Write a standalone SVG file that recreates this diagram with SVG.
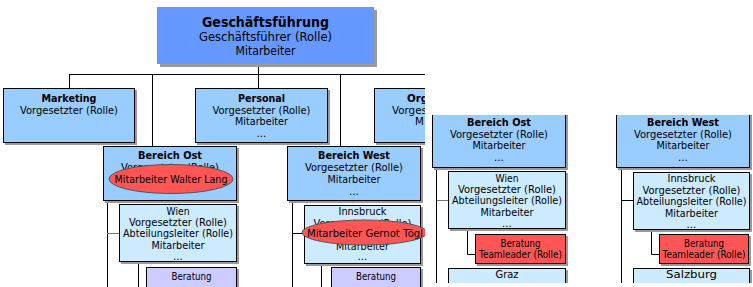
<svg xmlns="http://www.w3.org/2000/svg" width="753" height="287" viewBox="0 0 753 287">
<defs>
<clipPath id="clipL"><rect x="0" y="0" width="425" height="287"/></clipPath>
<clipPath id="clipR"><rect x="425" y="0" width="328" height="283"/></clipPath>
</defs>
<style>
text{font-family:"DejaVu Sans","Liberation Sans",sans-serif;font-size:10.3px;text-anchor:middle;fill:#000}
.b{font-weight:bold}
.s{text-anchor:start}
.sh{fill:#9a9a9a}
.bx{stroke:#000;stroke-width:1}
.c1{fill:#6699FF}
.c2{fill:#99CCFF}
.c3{fill:#CCEBFF}
.c4{fill:#CCCCFF}
.c5{fill:#FF5555}
.el{fill:#FF5555;stroke:#555;stroke-width:1}
.ln{stroke:#000;stroke-width:1;fill:none}
.lg{stroke:#777;stroke-width:1;fill:none}
</style>
<rect width="753" height="287" fill="#fff"/>

<g id="connectors">
<path class="ln" d="M258.5,64 V88 M69,74.5 H425 M69.5,74 V88 M152.5,74 V146 M340.5,74 V146 M107.5,200 V287 M138.5,261 V287 M292.5,200 V287 M292,233.5 H304 M321.5,263 V287"/>
<path class="lg" d="M107,233.5 H119 M436,200.5 H448"/>
<path class="ln" d="M436.5,167 V283 M467.5,228 V254.5 H475 M621.5,167 V283 M621,200.5 H633 M651.5,229 V254.5 H659"/>
</g>

<g id="n-geschaeftsfuehrung">
<rect class="sh" x="160" y="10" width="217" height="57"/>
<rect class="c1" x="157" y="7" width="217" height="57"/>
<text class="b" x="265.5" y="27" style="font-size:14.5px" textLength="127" lengthAdjust="spacingAndGlyphs">Geschäftsführung</text>
<text x="265.5" y="41" style="font-size:12px" textLength="133" lengthAdjust="spacingAndGlyphs">Geschäftsführer (Rolle)</text>
<text x="265.5" y="55" style="font-size:12px" textLength="60" lengthAdjust="spacingAndGlyphs">Mitarbeiter</text>
</g>

<g id="n-marketing">
<rect class="sh" x="5" y="90" width="132" height="55"/>
<rect class="c2 bx" x="3.5" y="88.5" width="131" height="54"/>
<text class="b" x="69" y="102" textLength="55" lengthAdjust="spacingAndGlyphs">Marketing</text>
<text x="69" y="113.5" textLength="98" lengthAdjust="spacingAndGlyphs">Vorgesetzter (Rolle)</text>
</g>

<g id="n-personal">
<rect class="sh" x="197" y="90" width="133" height="55"/>
<rect class="c2 bx" x="195.5" y="88.5" width="132" height="54"/>
<text class="b" x="261.5" y="102" textLength="47" lengthAdjust="spacingAndGlyphs">Personal</text>
<text x="261.5" y="113.5" textLength="98" lengthAdjust="spacingAndGlyphs">Vorgesetzter (Rolle)</text>
<text x="261.5" y="125" textLength="53" lengthAdjust="spacingAndGlyphs">Mitarbeiter</text>
<text x="261.5" y="136.5">...</text>
</g>

<g id="n-org" clip-path="url(#clipL)">
<rect class="sh" x="376" y="90" width="134" height="55"/>
<rect class="c2 bx" x="374.5" y="88.5" width="133" height="54"/>
<text class="b s" x="407" y="102">Org</text>
<text class="s" x="392" y="113.5">Vorges</text>
<text class="s" x="415" y="125">M</text>
</g>

<g id="n-bereich-ost">
<rect class="sh" x="105" y="148" width="134" height="55"/>
<rect class="c2 bx" x="103.5" y="146.5" width="133" height="54"/>
<text class="b" x="170" y="159" textLength="64" lengthAdjust="spacingAndGlyphs">Bereich Ost</text>
<text x="170" y="170.7" textLength="98" lengthAdjust="spacingAndGlyphs">Vorgesetzter (Rolle)</text>
<text x="170" y="182" textLength="53" lengthAdjust="spacingAndGlyphs">Mitarbeiter</text>
<text x="170" y="193">...</text>
</g>

<g id="n-walter-lang">
<ellipse class="el" cx="171" cy="179" rx="62" ry="14.5"/>
<text x="171" y="183" textLength="113" lengthAdjust="spacingAndGlyphs">Mitarbeiter Walter Lang</text>
</g>

<g id="n-bereich-west">
<rect class="sh" x="289" y="148" width="134" height="55"/>
<rect class="c2 bx" x="287.5" y="146.5" width="133" height="54"/>
<text class="b" x="354" y="159" textLength="72" lengthAdjust="spacingAndGlyphs">Bereich West</text>
<text x="354" y="170.7" textLength="98" lengthAdjust="spacingAndGlyphs">Vorgesetzter (Rolle)</text>
<text x="354" y="182.5" textLength="53" lengthAdjust="spacingAndGlyphs">Mitarbeiter</text>
<text x="354" y="194.5">...</text>
</g>

<g id="n-wien">
<rect class="sh" x="121" y="206" width="118" height="58"/>
<rect class="c3 bx" x="119.5" y="204.5" width="117" height="57"/>
<text x="178" y="214.5" textLength="23" lengthAdjust="spacingAndGlyphs">Wien</text>
<text x="178" y="226" textLength="98" lengthAdjust="spacingAndGlyphs">Vorgesetzter (Rolle)</text>
<text x="178" y="237.3" textLength="110" lengthAdjust="spacingAndGlyphs">Abteilungsleiter (Rolle)</text>
<text x="178" y="248.6" textLength="53" lengthAdjust="spacingAndGlyphs">Mitarbeiter</text>
<text x="178" y="259.8">...</text>
</g>

<g id="n-innsbruck">
<rect class="sh" x="306" y="207" width="117" height="59"/>
<rect class="c3 bx" x="304.5" y="205.5" width="116" height="58"/>
<text x="362.5" y="215" textLength="48" lengthAdjust="spacingAndGlyphs">Innsbruck</text>
<text x="362.5" y="226.5" textLength="98" lengthAdjust="spacingAndGlyphs">Vorgesetzter (Rolle)</text>
<text x="362.5" y="238" textLength="110" lengthAdjust="spacingAndGlyphs">Abteilungsleiter (Rolle)</text>
<text x="362.5" y="249.5" textLength="53" lengthAdjust="spacingAndGlyphs">Mitarbeiter</text>
<text x="362.5" y="260">...</text>
</g>

<g id="n-gernot-toegl" clip-path="url(#clipL)">
<ellipse class="el" cx="364.5" cy="232.5" rx="62.5" ry="12.5"/>
<text x="365" y="236.5" textLength="116" lengthAdjust="spacingAndGlyphs">Mitarbeiter Gernot Tögl</text>
</g>

<g id="n-beratung-ost">
<rect class="sh" x="148" y="269" width="91" height="40"/>
<rect class="c4 bx" x="146.5" y="267.5" width="90" height="40"/>
<text x="191.5" y="279.5" textLength="40" lengthAdjust="spacingAndGlyphs">Beratung</text>
</g>

<g id="n-beratung-west">
<rect class="sh" x="333" y="269" width="90" height="40"/>
<rect class="c4 bx" x="331.5" y="267.5" width="89" height="40"/>
<text x="376" y="279.5" textLength="40" lengthAdjust="spacingAndGlyphs">Beratung</text>
</g>

<g id="n-r-bereich-ost">
<rect class="sh" x="434" y="115" width="134" height="55"/>
<rect class="c2" x="432" y="115" width="134" height="53"/>
<path class="ln" d="M432.5,115 V167.5 H565.5 V115"/>
<text class="b" x="499" y="126" textLength="64" lengthAdjust="spacingAndGlyphs">Bereich Ost</text>
<text x="499" y="137.5" textLength="98" lengthAdjust="spacingAndGlyphs">Vorgesetzter (Rolle)</text>
<text x="499" y="149" textLength="53" lengthAdjust="spacingAndGlyphs">Mitarbeiter</text>
<text x="499" y="160.5">...</text>
</g>

<g id="n-r-bereich-west">
<rect class="sh" x="618" y="115" width="134" height="55"/>
<rect class="c2" x="616" y="115" width="134" height="53"/>
<path class="ln" d="M616.5,115 V167.5 H749.5 V115"/>
<text class="b" x="683" y="126" textLength="72" lengthAdjust="spacingAndGlyphs">Bereich West</text>
<text x="683" y="137.5" textLength="98" lengthAdjust="spacingAndGlyphs">Vorgesetzter (Rolle)</text>
<text x="683" y="149" textLength="53" lengthAdjust="spacingAndGlyphs">Mitarbeiter</text>
<text x="683" y="160.5">...</text>
</g>

<g id="n-r-wien">
<rect class="sh" x="450" y="173" width="118" height="58"/>
<rect class="c3 bx" x="448.5" y="171.5" width="117" height="57"/>
<text x="507" y="181.7" textLength="23" lengthAdjust="spacingAndGlyphs">Wien</text>
<text x="507" y="193" textLength="98" lengthAdjust="spacingAndGlyphs">Vorgesetzter (Rolle)</text>
<text x="507" y="204.4" textLength="110" lengthAdjust="spacingAndGlyphs">Abteilungsleiter (Rolle)</text>
<text x="507" y="215.8" textLength="53" lengthAdjust="spacingAndGlyphs">Mitarbeiter</text>
<text x="507" y="227">...</text>
</g>

<g id="n-r-innsbruck">
<rect class="sh" x="635" y="174" width="117" height="58"/>
<rect class="c3 bx" x="633.5" y="172.5" width="116" height="57"/>
<text x="691.5" y="182" textLength="48" lengthAdjust="spacingAndGlyphs">Innsbruck</text>
<text x="691.5" y="193.5" textLength="98" lengthAdjust="spacingAndGlyphs">Vorgesetzter (Rolle)</text>
<text x="691.5" y="205" textLength="110" lengthAdjust="spacingAndGlyphs">Abteilungsleiter (Rolle)</text>
<text x="691.5" y="216.5" textLength="53" lengthAdjust="spacingAndGlyphs">Mitarbeiter</text>
<text x="691.5" y="228">...</text>
</g>

<g id="n-r-beratung-ost">
<rect class="sh" x="477" y="236" width="91" height="30"/>
<rect class="c5 bx" x="475.5" y="234.5" width="90" height="29"/>
<text x="520.5" y="246.5" textLength="40" lengthAdjust="spacingAndGlyphs">Beratung</text>
<text x="520.5" y="258" textLength="83" lengthAdjust="spacingAndGlyphs">Teamleader (Rolle)</text>
</g>

<g id="n-r-beratung-west">
<rect class="sh" x="661" y="236" width="90" height="30"/>
<rect class="c5 bx" x="659.5" y="234.5" width="89" height="29"/>
<text x="704" y="246.5" textLength="40" lengthAdjust="spacingAndGlyphs">Beratung</text>
<text x="704" y="258" textLength="83" lengthAdjust="spacingAndGlyphs">Teamleader (Rolle)</text>
</g>

<g id="n-r-graz" clip-path="url(#clipR)">
<rect class="sh" x="450" y="270" width="118" height="30"/>
<rect class="c3 bx" x="448.5" y="268.5" width="117" height="30"/>
<text x="507" y="278" textLength="23" lengthAdjust="spacingAndGlyphs">Graz</text>
</g>

<g id="n-r-salzburg" clip-path="url(#clipR)">
<rect class="sh" x="635" y="270" width="117" height="30"/>
<rect class="c3 bx" x="633.5" y="268.5" width="116" height="30"/>
<text x="691.5" y="278" textLength="51" lengthAdjust="spacingAndGlyphs">Salzburg</text>
</g>
</svg>
